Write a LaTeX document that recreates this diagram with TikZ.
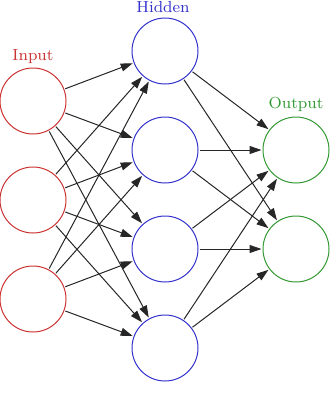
\documentclass[tikz,border=0pt]{standalone}
\usepackage{xcolor}
\usepackage{tikz}
\usetikzlibrary{positioning,arrows.meta}
\definecolor{nred}{HTML}{CC3333}
\definecolor{nblue}{HTML}{3333CC}
\definecolor{ngreen}{HTML}{339933}
\tikzset{
  neuron/.style ={circle, minimum size=33pt, inner sep=0pt, line width=0.5pt},
  inunit/.style ={neuron, draw=nred},
  hidunit/.style={neuron, draw=nblue},
  outunit/.style={neuron, draw=ngreen},
  layer/.style  ={font=\footnotesize, anchor=base, inner sep=0pt},
  link/.style   ={-{Triangle[length=6pt,width=4pt]}, line width=0.5pt, draw=black!85,
                  shorten >=0.5pt, shorten <=0.5pt},
}
\begin{document}
\begin{tikzpicture}[x=0.5pt, y=-0.5pt, node distance=16pt]
  \useasboundingbox (0,0) rectangle (330,397);
  % input layer
  \node[inunit] (in1) at (33,101) {};
  \node[inunit, below=of in1] (in2) {};
  \node[inunit, below=of in2] (in3) {};
  \node[layer, text=nred] (inlabel) at (33,60) {Input};
  % hidden layer
  \node[hidunit] (hid1) at (165,51) {};
  \node[hidunit, below=of hid1] (hid2) {};
  \node[hidunit, below=of hid2] (hid3) {};
  \node[hidunit, below=of hid3] (hid4) {};
  \node[layer, text=nblue] (hidlabel) at (163,12) {Hidden};
  % output layer
  \node[outunit] (out1) at (296,150) {};
  \node[outunit, below=of out1] (out2) {};
  \node[layer, text=ngreen] (outlabel) at (296,108) {Output};

  % input -> hidden
  \draw[link] (in1) -- (hid1);
  \draw[link] (in1) -- (hid2);
  \draw[link] (in1) -- (hid3);
  \draw[link] (in1) -- (hid4);
  \draw[link] (in2) -- (hid1);
  \draw[link] (in2) -- (hid2);
  \draw[link] (in2) -- (hid3);
  \draw[link] (in2) -- (hid4);
  \draw[link] (in3) -- (hid1);
  \draw[link] (in3) -- (hid2);
  \draw[link] (in3) -- (hid3);
  \draw[link] (in3) -- (hid4);
  % hidden -> output
  \draw[link] (hid1) -- (out1);
  \draw[link] (hid1) -- (out2);
  \draw[link] (hid2) -- (out1);
  \draw[link] (hid2) -- (out2);
  \draw[link] (hid3) -- (out1);
  \draw[link] (hid3) -- (out2);
  \draw[link] (hid4) -- (out1);
  \draw[link] (hid4) -- (out2);
\end{tikzpicture}
\end{document}
